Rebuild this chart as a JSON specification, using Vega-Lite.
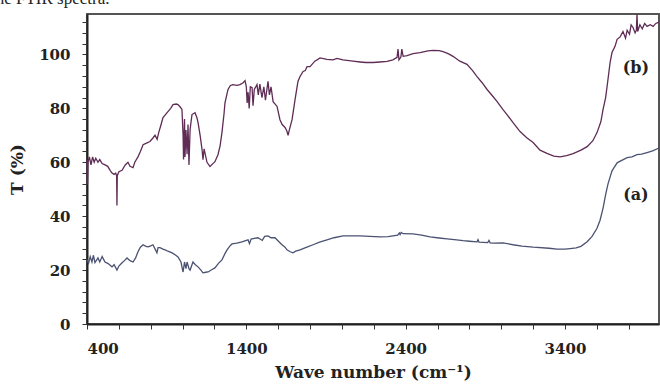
{
  "$schema": "https://vega.github.io/schema/vega-lite/v6.json",
  "width": 572,
  "height": 310,
  "autosize": "none",
  "padding": {"left": 87, "top": 14, "right": 1, "bottom": 61},
  "background": "white",
  "title": {
    "text": "the FTIR spectra.",
    "anchor": "start",
    "frame": "group",
    "orient": "top",
    "baseline": "alphabetic",
    "offset": -10,
    "dx": -96,
    "font": "Liberation Serif",
    "fontSize": 17,
    "fontWeight": "normal",
    "color": "#222"
  },
  "config": {
    "view": {"stroke": "#555", "strokeWidth": 2},
    "axis": {
      "grid": false,
      "domainColor": "#222",
      "domainWidth": 2,
      "tickColor": "#333",
      "tickWidth": 1,
      "tickSize": 5,
      "labelFont": "DejaVu Serif",
      "labelFontWeight": "bold",
      "labelFontSize": 15,
      "labelColor": "#222",
      "titleFont": "DejaVu Serif",
      "titleFontWeight": "bold",
      "titleFontSize": 17,
      "titleColor": "#222"
    }
  },
  "datasets": {
    "curve_labels": [
      {"label": "(b)"},
      {"label": "(a)"}
    ],
    "spectra": [
      {"sample": "b", "wavenumber": 400, "T": 61},
      {"sample": "b", "wavenumber": 403, "T": 52},
      {"sample": "b", "wavenumber": 406, "T": 60},
      {"sample": "b", "wavenumber": 415, "T": 62},
      {"sample": "b", "wavenumber": 425, "T": 59},
      {"sample": "b", "wavenumber": 435, "T": 62},
      {"sample": "b", "wavenumber": 445, "T": 60},
      {"sample": "b", "wavenumber": 455, "T": 61.5},
      {"sample": "b", "wavenumber": 469, "T": 60},
      {"sample": "b", "wavenumber": 480, "T": 61},
      {"sample": "b", "wavenumber": 495, "T": 59.5},
      {"sample": "b", "wavenumber": 513, "T": 59},
      {"sample": "b", "wavenumber": 530, "T": 58.5},
      {"sample": "b", "wavenumber": 545, "T": 57},
      {"sample": "b", "wavenumber": 557, "T": 56},
      {"sample": "b", "wavenumber": 570, "T": 55.5},
      {"sample": "b", "wavenumber": 580, "T": 56},
      {"sample": "b", "wavenumber": 586, "T": 55},
      {"sample": "b", "wavenumber": 588, "T": 44},
      {"sample": "b", "wavenumber": 590, "T": 55},
      {"sample": "b", "wavenumber": 600, "T": 56.5},
      {"sample": "b", "wavenumber": 620, "T": 57},
      {"sample": "b", "wavenumber": 640, "T": 59},
      {"sample": "b", "wavenumber": 657, "T": 60},
      {"sample": "b", "wavenumber": 670, "T": 58.5},
      {"sample": "b", "wavenumber": 689, "T": 58},
      {"sample": "b", "wavenumber": 700, "T": 60},
      {"sample": "b", "wavenumber": 720, "T": 62},
      {"sample": "b", "wavenumber": 735, "T": 64},
      {"sample": "b", "wavenumber": 752, "T": 66.5},
      {"sample": "b", "wavenumber": 770, "T": 67},
      {"sample": "b", "wavenumber": 795, "T": 67.7},
      {"sample": "b", "wavenumber": 814, "T": 69},
      {"sample": "b", "wavenumber": 827, "T": 70},
      {"sample": "b", "wavenumber": 840, "T": 68.5},
      {"sample": "b", "wavenumber": 850, "T": 71},
      {"sample": "b", "wavenumber": 865, "T": 74},
      {"sample": "b", "wavenumber": 877, "T": 76.6},
      {"sample": "b", "wavenumber": 890, "T": 77.5},
      {"sample": "b", "wavenumber": 908, "T": 78.8},
      {"sample": "b", "wavenumber": 925, "T": 80},
      {"sample": "b", "wavenumber": 940, "T": 81.4},
      {"sample": "b", "wavenumber": 960, "T": 81.6},
      {"sample": "b", "wavenumber": 971, "T": 81.4},
      {"sample": "b", "wavenumber": 985, "T": 80.5},
      {"sample": "b", "wavenumber": 996, "T": 79.6},
      {"sample": "b", "wavenumber": 1003, "T": 70},
      {"sample": "b", "wavenumber": 1006, "T": 61},
      {"sample": "b", "wavenumber": 1012, "T": 76},
      {"sample": "b", "wavenumber": 1015, "T": 62},
      {"sample": "b", "wavenumber": 1021, "T": 72},
      {"sample": "b", "wavenumber": 1028, "T": 63},
      {"sample": "b", "wavenumber": 1034, "T": 74},
      {"sample": "b", "wavenumber": 1040, "T": 59},
      {"sample": "b", "wavenumber": 1047, "T": 72},
      {"sample": "b", "wavenumber": 1053, "T": 75},
      {"sample": "b", "wavenumber": 1059, "T": 77.7},
      {"sample": "b", "wavenumber": 1078, "T": 78.4},
      {"sample": "b", "wavenumber": 1090, "T": 76.5},
      {"sample": "b", "wavenumber": 1097, "T": 74.7},
      {"sample": "b", "wavenumber": 1110, "T": 70},
      {"sample": "b", "wavenumber": 1122, "T": 64.7},
      {"sample": "b", "wavenumber": 1128, "T": 61},
      {"sample": "b", "wavenumber": 1135, "T": 65},
      {"sample": "b", "wavenumber": 1153, "T": 60},
      {"sample": "b", "wavenumber": 1172, "T": 58.4},
      {"sample": "b", "wavenumber": 1190, "T": 59.5},
      {"sample": "b", "wavenumber": 1203, "T": 60.2},
      {"sample": "b", "wavenumber": 1222, "T": 62.8},
      {"sample": "b", "wavenumber": 1235, "T": 66},
      {"sample": "b", "wavenumber": 1247, "T": 71},
      {"sample": "b", "wavenumber": 1260, "T": 78},
      {"sample": "b", "wavenumber": 1266, "T": 82},
      {"sample": "b", "wavenumber": 1285, "T": 87},
      {"sample": "b", "wavenumber": 1300, "T": 88.5},
      {"sample": "b", "wavenumber": 1316, "T": 88.8},
      {"sample": "b", "wavenumber": 1340, "T": 88.5},
      {"sample": "b", "wavenumber": 1360, "T": 88.8},
      {"sample": "b", "wavenumber": 1380, "T": 89.5},
      {"sample": "b", "wavenumber": 1392, "T": 90.3},
      {"sample": "b", "wavenumber": 1400, "T": 88},
      {"sample": "b", "wavenumber": 1405, "T": 82},
      {"sample": "b", "wavenumber": 1411, "T": 86},
      {"sample": "b", "wavenumber": 1418, "T": 80},
      {"sample": "b", "wavenumber": 1425, "T": 88},
      {"sample": "b", "wavenumber": 1436, "T": 87.7},
      {"sample": "b", "wavenumber": 1442, "T": 81},
      {"sample": "b", "wavenumber": 1450, "T": 87},
      {"sample": "b", "wavenumber": 1467, "T": 88.8},
      {"sample": "b", "wavenumber": 1475, "T": 85},
      {"sample": "b", "wavenumber": 1485, "T": 89},
      {"sample": "b", "wavenumber": 1498, "T": 84},
      {"sample": "b", "wavenumber": 1510, "T": 88},
      {"sample": "b", "wavenumber": 1520, "T": 83},
      {"sample": "b", "wavenumber": 1536, "T": 90},
      {"sample": "b", "wavenumber": 1545, "T": 85},
      {"sample": "b", "wavenumber": 1555, "T": 88},
      {"sample": "b", "wavenumber": 1568, "T": 82.5},
      {"sample": "b", "wavenumber": 1593, "T": 80.7},
      {"sample": "b", "wavenumber": 1611, "T": 75.8},
      {"sample": "b", "wavenumber": 1625, "T": 74},
      {"sample": "b", "wavenumber": 1643, "T": 72.9},
      {"sample": "b", "wavenumber": 1655, "T": 71.5},
      {"sample": "b", "wavenumber": 1662, "T": 70},
      {"sample": "b", "wavenumber": 1670, "T": 72},
      {"sample": "b", "wavenumber": 1687, "T": 75.8},
      {"sample": "b", "wavenumber": 1706, "T": 83.3},
      {"sample": "b", "wavenumber": 1724, "T": 90},
      {"sample": "b", "wavenumber": 1737, "T": 91.8},
      {"sample": "b", "wavenumber": 1756, "T": 93.7},
      {"sample": "b", "wavenumber": 1770, "T": 94},
      {"sample": "b", "wavenumber": 1781, "T": 95.5},
      {"sample": "b", "wavenumber": 1800, "T": 95.5},
      {"sample": "b", "wavenumber": 1830, "T": 97.5},
      {"sample": "b", "wavenumber": 1863, "T": 98.7},
      {"sample": "b", "wavenumber": 1906, "T": 98.2},
      {"sample": "b", "wavenumber": 1944, "T": 98},
      {"sample": "b", "wavenumber": 1969, "T": 98.5},
      {"sample": "b", "wavenumber": 2007, "T": 98},
      {"sample": "b", "wavenumber": 2032, "T": 97.8},
      {"sample": "b", "wavenumber": 2070, "T": 97.5},
      {"sample": "b", "wavenumber": 2114, "T": 97.2},
      {"sample": "b", "wavenumber": 2150, "T": 97},
      {"sample": "b", "wavenumber": 2195, "T": 97},
      {"sample": "b", "wavenumber": 2239, "T": 97.2},
      {"sample": "b", "wavenumber": 2283, "T": 97.4},
      {"sample": "b", "wavenumber": 2320, "T": 98},
      {"sample": "b", "wavenumber": 2346, "T": 98.9},
      {"sample": "b", "wavenumber": 2352, "T": 102},
      {"sample": "b", "wavenumber": 2358, "T": 98},
      {"sample": "b", "wavenumber": 2370, "T": 99},
      {"sample": "b", "wavenumber": 2376, "T": 102},
      {"sample": "b", "wavenumber": 2384, "T": 99.3},
      {"sample": "b", "wavenumber": 2409, "T": 99.6},
      {"sample": "b", "wavenumber": 2446, "T": 100.3},
      {"sample": "b", "wavenumber": 2490, "T": 100.7},
      {"sample": "b", "wavenumber": 2540, "T": 101.3},
      {"sample": "b", "wavenumber": 2572, "T": 101.5},
      {"sample": "b", "wavenumber": 2610, "T": 101.4},
      {"sample": "b", "wavenumber": 2635, "T": 101},
      {"sample": "b", "wavenumber": 2670, "T": 100.2},
      {"sample": "b", "wavenumber": 2697, "T": 99.3},
      {"sample": "b", "wavenumber": 2740, "T": 97.5},
      {"sample": "b", "wavenumber": 2785, "T": 96.3},
      {"sample": "b", "wavenumber": 2820, "T": 94},
      {"sample": "b", "wavenumber": 2848, "T": 91.8},
      {"sample": "b", "wavenumber": 2880, "T": 89.5},
      {"sample": "b", "wavenumber": 2911, "T": 87},
      {"sample": "b", "wavenumber": 2948, "T": 84.4},
      {"sample": "b", "wavenumber": 2974, "T": 82.5},
      {"sample": "b", "wavenumber": 3011, "T": 79.5},
      {"sample": "b", "wavenumber": 3036, "T": 77.7},
      {"sample": "b", "wavenumber": 3074, "T": 74.7},
      {"sample": "b", "wavenumber": 3118, "T": 71.4},
      {"sample": "b", "wavenumber": 3162, "T": 69},
      {"sample": "b", "wavenumber": 3200, "T": 67.3},
      {"sample": "b", "wavenumber": 3243, "T": 64.5},
      {"sample": "b", "wavenumber": 3287, "T": 63.3},
      {"sample": "b", "wavenumber": 3330, "T": 62.3},
      {"sample": "b", "wavenumber": 3369, "T": 62},
      {"sample": "b", "wavenumber": 3410, "T": 62.5},
      {"sample": "b", "wavenumber": 3451, "T": 63.2},
      {"sample": "b", "wavenumber": 3500, "T": 64.5},
      {"sample": "b", "wavenumber": 3539, "T": 65.8},
      {"sample": "b", "wavenumber": 3575, "T": 68},
      {"sample": "b", "wavenumber": 3601, "T": 71},
      {"sample": "b", "wavenumber": 3625, "T": 75},
      {"sample": "b", "wavenumber": 3639, "T": 79.6},
      {"sample": "b", "wavenumber": 3655, "T": 84},
      {"sample": "b", "wavenumber": 3664, "T": 88},
      {"sample": "b", "wavenumber": 3683, "T": 97},
      {"sample": "b", "wavenumber": 3695, "T": 100.7},
      {"sample": "b", "wavenumber": 3714, "T": 103},
      {"sample": "b", "wavenumber": 3727, "T": 105.6},
      {"sample": "b", "wavenumber": 3746, "T": 106.5},
      {"sample": "b", "wavenumber": 3764, "T": 108.5},
      {"sample": "b", "wavenumber": 3780, "T": 106},
      {"sample": "b", "wavenumber": 3790, "T": 109},
      {"sample": "b", "wavenumber": 3805, "T": 107.5},
      {"sample": "b", "wavenumber": 3815, "T": 111},
      {"sample": "b", "wavenumber": 3827, "T": 110},
      {"sample": "b", "wavenumber": 3840, "T": 108},
      {"sample": "b", "wavenumber": 3848, "T": 109},
      {"sample": "b", "wavenumber": 3852, "T": 115},
      {"sample": "b", "wavenumber": 3856, "T": 108.5},
      {"sample": "b", "wavenumber": 3870, "T": 111},
      {"sample": "b", "wavenumber": 3885, "T": 109.5},
      {"sample": "b", "wavenumber": 3900, "T": 111.5},
      {"sample": "b", "wavenumber": 3915, "T": 110.4},
      {"sample": "b", "wavenumber": 3935, "T": 111},
      {"sample": "b", "wavenumber": 3953, "T": 110.4},
      {"sample": "b", "wavenumber": 3970, "T": 111.5},
      {"sample": "b", "wavenumber": 3990, "T": 112},
      {"sample": "a", "wavenumber": 400, "T": 23.8},
      {"sample": "a", "wavenumber": 410, "T": 22.5},
      {"sample": "a", "wavenumber": 420, "T": 25},
      {"sample": "a", "wavenumber": 431, "T": 23},
      {"sample": "a", "wavenumber": 440, "T": 25.5},
      {"sample": "a", "wavenumber": 450, "T": 22.8},
      {"sample": "a", "wavenumber": 469, "T": 24.5},
      {"sample": "a", "wavenumber": 480, "T": 23},
      {"sample": "a", "wavenumber": 495, "T": 25},
      {"sample": "a", "wavenumber": 513, "T": 23},
      {"sample": "a", "wavenumber": 530, "T": 22.5},
      {"sample": "a", "wavenumber": 545, "T": 21.8},
      {"sample": "a", "wavenumber": 557, "T": 21.2},
      {"sample": "a", "wavenumber": 570, "T": 22},
      {"sample": "a", "wavenumber": 588, "T": 20},
      {"sample": "a", "wavenumber": 600, "T": 21.5},
      {"sample": "a", "wavenumber": 620, "T": 22.7},
      {"sample": "a", "wavenumber": 635, "T": 23.5},
      {"sample": "a", "wavenumber": 651, "T": 24.5},
      {"sample": "a", "wavenumber": 670, "T": 23.5},
      {"sample": "a", "wavenumber": 689, "T": 23},
      {"sample": "a", "wavenumber": 705, "T": 24.5},
      {"sample": "a", "wavenumber": 720, "T": 26.8},
      {"sample": "a", "wavenumber": 735, "T": 28.5},
      {"sample": "a", "wavenumber": 752, "T": 29.4},
      {"sample": "a", "wavenumber": 770, "T": 28.8},
      {"sample": "a", "wavenumber": 783, "T": 28.6},
      {"sample": "a", "wavenumber": 800, "T": 29},
      {"sample": "a", "wavenumber": 814, "T": 29.4},
      {"sample": "a", "wavenumber": 830, "T": 27.5},
      {"sample": "a", "wavenumber": 839, "T": 26.4},
      {"sample": "a", "wavenumber": 846, "T": 28.3},
      {"sample": "a", "wavenumber": 858, "T": 28.3},
      {"sample": "a", "wavenumber": 877, "T": 27.8},
      {"sample": "a", "wavenumber": 890, "T": 27.5},
      {"sample": "a", "wavenumber": 908, "T": 27},
      {"sample": "a", "wavenumber": 934, "T": 26.4},
      {"sample": "a", "wavenumber": 955, "T": 25.6},
      {"sample": "a", "wavenumber": 971, "T": 24.9},
      {"sample": "a", "wavenumber": 990, "T": 23},
      {"sample": "a", "wavenumber": 1000, "T": 20},
      {"sample": "a", "wavenumber": 1003, "T": 19.3},
      {"sample": "a", "wavenumber": 1012, "T": 23},
      {"sample": "a", "wavenumber": 1021, "T": 20.5},
      {"sample": "a", "wavenumber": 1028, "T": 23},
      {"sample": "a", "wavenumber": 1040, "T": 20.5},
      {"sample": "a", "wavenumber": 1047, "T": 20},
      {"sample": "a", "wavenumber": 1065, "T": 23},
      {"sample": "a", "wavenumber": 1080, "T": 22},
      {"sample": "a", "wavenumber": 1097, "T": 21.2},
      {"sample": "a", "wavenumber": 1115, "T": 20},
      {"sample": "a", "wavenumber": 1128, "T": 19},
      {"sample": "a", "wavenumber": 1145, "T": 19.2},
      {"sample": "a", "wavenumber": 1160, "T": 19.3},
      {"sample": "a", "wavenumber": 1185, "T": 20.2},
      {"sample": "a", "wavenumber": 1203, "T": 20.8},
      {"sample": "a", "wavenumber": 1225, "T": 22.5},
      {"sample": "a", "wavenumber": 1247, "T": 23.8},
      {"sample": "a", "wavenumber": 1265, "T": 26},
      {"sample": "a", "wavenumber": 1279, "T": 27.5},
      {"sample": "a", "wavenumber": 1295, "T": 28.8},
      {"sample": "a", "wavenumber": 1310, "T": 29.7},
      {"sample": "a", "wavenumber": 1340, "T": 30},
      {"sample": "a", "wavenumber": 1373, "T": 30.5},
      {"sample": "a", "wavenumber": 1400, "T": 31},
      {"sample": "a", "wavenumber": 1411, "T": 31.2},
      {"sample": "a", "wavenumber": 1420, "T": 29.8},
      {"sample": "a", "wavenumber": 1430, "T": 31.5},
      {"sample": "a", "wavenumber": 1450, "T": 31.8},
      {"sample": "a", "wavenumber": 1473, "T": 32},
      {"sample": "a", "wavenumber": 1500, "T": 31},
      {"sample": "a", "wavenumber": 1515, "T": 32.5},
      {"sample": "a", "wavenumber": 1536, "T": 32.7},
      {"sample": "a", "wavenumber": 1555, "T": 32},
      {"sample": "a", "wavenumber": 1580, "T": 32},
      {"sample": "a", "wavenumber": 1600, "T": 30.8},
      {"sample": "a", "wavenumber": 1624, "T": 29.4},
      {"sample": "a", "wavenumber": 1643, "T": 28.5},
      {"sample": "a", "wavenumber": 1655, "T": 27.5},
      {"sample": "a", "wavenumber": 1675, "T": 26.8},
      {"sample": "a", "wavenumber": 1693, "T": 26.4},
      {"sample": "a", "wavenumber": 1710, "T": 27},
      {"sample": "a", "wavenumber": 1737, "T": 27.5},
      {"sample": "a", "wavenumber": 1780, "T": 28.5},
      {"sample": "a", "wavenumber": 1819, "T": 29.4},
      {"sample": "a", "wavenumber": 1860, "T": 30.4},
      {"sample": "a", "wavenumber": 1906, "T": 31.2},
      {"sample": "a", "wavenumber": 1950, "T": 32},
      {"sample": "a", "wavenumber": 2007, "T": 32.7},
      {"sample": "a", "wavenumber": 2060, "T": 32.7},
      {"sample": "a", "wavenumber": 2114, "T": 32.7},
      {"sample": "a", "wavenumber": 2176, "T": 32.5},
      {"sample": "a", "wavenumber": 2239, "T": 32.3},
      {"sample": "a", "wavenumber": 2290, "T": 32.4},
      {"sample": "a", "wavenumber": 2321, "T": 32.7},
      {"sample": "a", "wavenumber": 2350, "T": 33},
      {"sample": "a", "wavenumber": 2360, "T": 33.8},
      {"sample": "a", "wavenumber": 2365, "T": 33.2},
      {"sample": "a", "wavenumber": 2372, "T": 34},
      {"sample": "a", "wavenumber": 2384, "T": 33.5},
      {"sample": "a", "wavenumber": 2446, "T": 33.4},
      {"sample": "a", "wavenumber": 2500, "T": 33},
      {"sample": "a", "wavenumber": 2553, "T": 32.3},
      {"sample": "a", "wavenumber": 2610, "T": 31.9},
      {"sample": "a", "wavenumber": 2660, "T": 31.6},
      {"sample": "a", "wavenumber": 2720, "T": 31.2},
      {"sample": "a", "wavenumber": 2760, "T": 30.9},
      {"sample": "a", "wavenumber": 2800, "T": 30.7},
      {"sample": "a", "wavenumber": 2848, "T": 30.5},
      {"sample": "a", "wavenumber": 2854, "T": 31.3},
      {"sample": "a", "wavenumber": 2860, "T": 30.4},
      {"sample": "a", "wavenumber": 2915, "T": 30.2},
      {"sample": "a", "wavenumber": 2923, "T": 31},
      {"sample": "a", "wavenumber": 2930, "T": 30.1},
      {"sample": "a", "wavenumber": 2950, "T": 30},
      {"sample": "a", "wavenumber": 3011, "T": 30.1},
      {"sample": "a", "wavenumber": 3074, "T": 29.4},
      {"sample": "a", "wavenumber": 3130, "T": 28.9},
      {"sample": "a", "wavenumber": 3200, "T": 28.5},
      {"sample": "a", "wavenumber": 3300, "T": 28.1},
      {"sample": "a", "wavenumber": 3350, "T": 27.8},
      {"sample": "a", "wavenumber": 3400, "T": 27.8},
      {"sample": "a", "wavenumber": 3432, "T": 28},
      {"sample": "a", "wavenumber": 3470, "T": 28.2},
      {"sample": "a", "wavenumber": 3500, "T": 28.8},
      {"sample": "a", "wavenumber": 3539, "T": 30.5},
      {"sample": "a", "wavenumber": 3570, "T": 32.5},
      {"sample": "a", "wavenumber": 3601, "T": 35.5},
      {"sample": "a", "wavenumber": 3620, "T": 38.5},
      {"sample": "a", "wavenumber": 3639, "T": 43},
      {"sample": "a", "wavenumber": 3655, "T": 48},
      {"sample": "a", "wavenumber": 3670, "T": 52},
      {"sample": "a", "wavenumber": 3695, "T": 56.8},
      {"sample": "a", "wavenumber": 3714, "T": 58.6},
      {"sample": "a", "wavenumber": 3727, "T": 59.8},
      {"sample": "a", "wavenumber": 3750, "T": 60.5},
      {"sample": "a", "wavenumber": 3790, "T": 61.7},
      {"sample": "a", "wavenumber": 3820, "T": 62},
      {"sample": "a", "wavenumber": 3852, "T": 62.8},
      {"sample": "a", "wavenumber": 3880, "T": 63},
      {"sample": "a", "wavenumber": 3915, "T": 63.6},
      {"sample": "a", "wavenumber": 3950, "T": 64.2},
      {"sample": "a", "wavenumber": 3990, "T": 65.3}
    ]
  },
  "resolve": {"axis": {"x": "independent", "y": "independent"}},
  "layer": [
    {
      "data": {"name": "spectra"},
      "mark": {"type": "line", "strokeWidth": 1.3, "interpolate": "linear"},
      "encoding": {
        "x": {
          "field": "wavenumber",
          "type": "quantitative",
          "scale": {"domain": [400, 3990], "nice": false, "zero": false},
          "axis": {
            "orient": "bottom",
            "title": "Wave number (cm⁻¹)",
            "values": [400, 1400, 2400, 3400],
            "format": "d",
            "labelPadding": 12,
            "titlePadding": 8
          }
        },
        "y": {
          "field": "T",
          "type": "quantitative",
          "scale": {"domain": [0, 115], "nice": false, "zero": false},
          "axis": {
            "orient": "left",
            "title": "T (%)",
            "values": [0, 20, 40, 60, 80, 100],
            "labelPadding": 12,
            "titlePadding": 12
          }
        },
        "color": {
          "field": "sample",
          "type": "nominal",
          "scale": {"domain": ["a", "b"], "range": ["#4b5272", "#5e2c55"]},
          "legend": null
        }
      }
    },
    {
      "data": {"name": "curve_labels"},
      "transform": [{"filter": "datum.label === '(b)'"}],
      "mark": {"type": "text", "font": "DejaVu Serif", "fontWeight": "bold", "fontSize": 16, "color": "#222"},
      "encoding": {
        "text": {"field": "label", "type": "nominal"},
        "x": {
          "datum": 3845,
          "type": "quantitative",
          "scale": {"domain": [400, 3990], "nice": false, "zero": false},
          "axis": {
            "orient": "bottom",
            "title": null,
            "labels": false,
            "domain": false,
            "values": [600, 800, 1000, 1200, 1600, 1800, 2000, 2200, 2600, 2800, 3000, 3200, 3600, 3800]
          }
        },
        "y": {
          "datum": 95,
          "type": "quantitative",
          "scale": {"domain": [0, 115], "nice": false, "zero": false},
          "axis": {
            "orient": "left",
            "title": null,
            "labels": false,
            "domain": false,
            "values": [4, 8, 12, 16, 24, 28, 32, 36, 44, 48, 52, 56, 64, 68, 72, 76, 84, 88, 92, 96, 104, 108, 112]
          }
        }
      }
    },
    {
      "data": {"name": "curve_labels"},
      "transform": [{"filter": "datum.label === '(a)'"}],
      "mark": {"type": "text", "font": "DejaVu Serif", "fontWeight": "bold", "fontSize": 16, "color": "#222"},
      "encoding": {
        "text": {"field": "label", "type": "nominal"},
        "x": {"datum": 3845, "type": "quantitative", "scale": {"domain": [400, 3990], "nice": false, "zero": false}, "axis": null},
        "y": {"datum": 48, "type": "quantitative", "scale": {"domain": [0, 115], "nice": false, "zero": false}, "axis": null}
      }
    }
  ]
}
